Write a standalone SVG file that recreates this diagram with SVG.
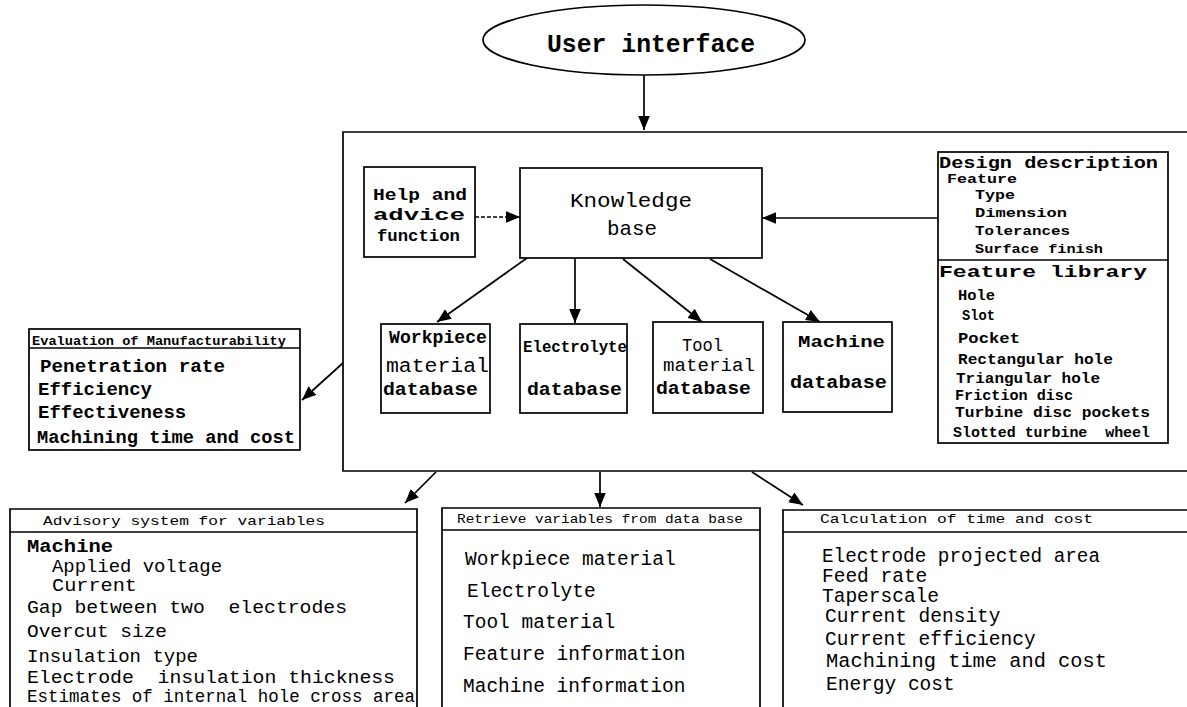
<svg xmlns="http://www.w3.org/2000/svg" width="1187" height="707" viewBox="0 0 1187 707">
<style>
.ln{fill:none;stroke:#000;stroke-width:1.7}
.bx{fill:#fff;stroke:#000;stroke-width:1.7}
text{font-family:"Liberation Mono","DejaVu Sans Mono",monospace;fill:#000;white-space:pre}
.b{font-weight:bold}
.s13{font-size:13px}
.s14{font-size:14px}
.s15{font-size:15px}
.s16{font-size:16px}
.s17{font-size:17px}
.s18{font-size:18px}
.s19{font-size:19px}
.s20{font-size:19.5px}
.s21{font-size:21px}
</style>
<defs>
<marker id="ah" viewBox="0 0 12 10" refX="12" refY="5" markerWidth="14" markerHeight="12" markerUnits="userSpaceOnUse" orient="auto">
<path d="M0,0 L12,5 L0,10 z" fill="#000"/>
</marker>
</defs>
<rect width="1187" height="707" fill="#fff"/>

<g id="main-frame">
<path class="ln" d="M1190,132 H343 V471 H1190"/>
</g>

<g id="connectors">
<line class="ln" x1="644" y1="75" x2="644" y2="130" marker-end="url(#ah)"/>
<line class="ln" x1="475" y1="217" x2="520" y2="217" stroke-dasharray="4 2" marker-end="url(#ah)"/>
<line class="ln" x1="938" y1="218" x2="762" y2="218" marker-end="url(#ah)"/>
<line class="ln" x1="527" y1="258" x2="437" y2="322" marker-end="url(#ah)"/>
<line class="ln" x1="575" y1="258" x2="575" y2="323" marker-end="url(#ah)"/>
<line class="ln" x1="623" y1="259" x2="702" y2="322" marker-end="url(#ah)"/>
<line class="ln" x1="710" y1="259" x2="820" y2="322" marker-end="url(#ah)"/>
<line class="ln" x1="343" y1="363" x2="302" y2="400" marker-end="url(#ah)"/>
<line class="ln" x1="436" y1="472" x2="405" y2="503" marker-end="url(#ah)"/>
<line class="ln" x1="600" y1="472" x2="600" y2="507" marker-end="url(#ah)"/>
<line class="ln" x1="752" y1="472" x2="803" y2="505" marker-end="url(#ah)"/>
</g>

<g id="user-interface">
<ellipse class="bx" cx="644" cy="40" rx="161" ry="35"/>
<text class="b" x="547" y="52" font-size="25" textLength="208" lengthAdjust="spacingAndGlyphs">User interface</text>
</g>

<g id="help-advice">
<rect class="bx" x="364" y="167" width="111" height="90"/>
<text class="b s17" x="373" y="200" textLength="94" lengthAdjust="spacingAndGlyphs">Help and</text>
<text class="b s17" x="373" y="220" textLength="92" lengthAdjust="spacingAndGlyphs">advice</text>
<text class="b s17" x="377" y="241" textLength="83" lengthAdjust="spacingAndGlyphs">function</text>
</g>

<g id="knowledge-base">
<rect class="bx" x="520" y="168" width="242" height="90"/>
<text class="s21" x="570" y="207" textLength="122" lengthAdjust="spacingAndGlyphs">Knowledge</text>
<text class="s21" x="607" y="235" textLength="50" lengthAdjust="spacingAndGlyphs">base</text>
</g>

<g id="design-description">
<rect class="bx" x="938" y="152" width="230" height="291"/>
<line class="ln" x1="938" y1="260" x2="1168" y2="260"/>
<text class="b s17" x="939" y="168" textLength="219" lengthAdjust="spacingAndGlyphs">Design description</text>
<text class="b s13" x="947" y="183" textLength="70" lengthAdjust="spacingAndGlyphs">Feature</text>
<text class="b s13" x="975" y="199" textLength="40" lengthAdjust="spacingAndGlyphs">Type</text>
<text class="b s13" x="975" y="217" textLength="92" lengthAdjust="spacingAndGlyphs">Dimension</text>
<text class="b s13" x="975" y="235" textLength="95" lengthAdjust="spacingAndGlyphs">Tolerances</text>
<text class="b s13" x="975" y="253" textLength="128" lengthAdjust="spacingAndGlyphs">Surface finish</text>
<text class="b s17" x="939" y="277" textLength="208" lengthAdjust="spacingAndGlyphs">Feature library</text>
<text class="b s15" x="958" y="300" textLength="37" lengthAdjust="spacingAndGlyphs">Hole</text>
<text class="b s15" x="962" y="320" textLength="33" lengthAdjust="spacingAndGlyphs">Slot</text>
<text class="b s15" x="958" y="343" textLength="62" lengthAdjust="spacingAndGlyphs">Pocket</text>
<text class="b s15" x="958" y="364" textLength="155" lengthAdjust="spacingAndGlyphs">Rectangular hole</text>
<text class="b s15" x="956" y="383" textLength="144" lengthAdjust="spacingAndGlyphs">Triangular hole</text>
<text class="b s15" x="955" y="400" textLength="118" lengthAdjust="spacingAndGlyphs">Friction disc</text>
<text class="b s15" x="955" y="417" textLength="195" lengthAdjust="spacingAndGlyphs">Turbine disc pockets</text>
<text class="b s15" x="953" y="437" textLength="197" lengthAdjust="spacingAndGlyphs">Slotted turbine  wheel</text>
</g>

<g id="workpiece-db">
<rect class="bx" x="381" y="324" width="109" height="89"/>
<text class="b s18" x="389" y="343" textLength="98" lengthAdjust="spacingAndGlyphs">Workpiece</text>
<text class="s20" x="386" y="372" textLength="103" lengthAdjust="spacingAndGlyphs">material</text>
<text class="b s18" x="383" y="395" textLength="95" lengthAdjust="spacingAndGlyphs">database</text>
</g>

<g id="electrolyte-db">
<rect class="bx" x="520" y="324" width="107" height="89"/>
<text class="b s16" x="523" y="352" textLength="104" lengthAdjust="spacingAndGlyphs">Electrolyte</text>
<text class="b s18" x="527" y="395" textLength="95" lengthAdjust="spacingAndGlyphs">database</text>
</g>

<g id="tool-db">
<rect class="bx" x="653" y="322" width="110" height="91"/>
<text class="s18" x="682" y="351" textLength="41" lengthAdjust="spacingAndGlyphs">Tool</text>
<text class="s18" x="663" y="371" textLength="92" lengthAdjust="spacingAndGlyphs">material</text>
<text class="b s18" x="656" y="394" textLength="95" lengthAdjust="spacingAndGlyphs">database</text>
</g>

<g id="machine-db">
<rect class="bx" x="783" y="322" width="109" height="90"/>
<text class="b s17" x="798" y="347" textLength="87" lengthAdjust="spacingAndGlyphs">Machine</text>
<text class="b s18" x="790" y="388" textLength="97" lengthAdjust="spacingAndGlyphs">database</text>
</g>

<g id="evaluation">
<rect class="bx" x="29" y="329" width="271" height="121"/>
<line class="ln" x1="29" y1="348" x2="300" y2="348"/>
<text class="b s13" x="32" y="345" textLength="254" lengthAdjust="spacingAndGlyphs">Evaluation of Manufacturability</text>
<text class="b s19" x="40" y="372" textLength="185" lengthAdjust="spacingAndGlyphs">Penetration rate</text>
<text class="b s19" x="38" y="395">Efficiency</text>
<text class="b s19" x="38" y="418">Effectiveness</text>
<text class="b s19" x="37" y="443" textLength="258" lengthAdjust="spacingAndGlyphs">Machining time and cost</text>
</g>

<g id="advisory-system">
<path class="bx" d="M10,712 V509 H417 V712"/>
<line class="ln" x1="10" y1="532" x2="417" y2="532"/>
<text class="s13" x="43" y="525" textLength="282" lengthAdjust="spacingAndGlyphs">Advisory system for variables</text>
<text class="b s18" x="27" y="552" textLength="86" lengthAdjust="spacingAndGlyphs">Machine</text>
<text class="s18" x="52" y="572" textLength="170" lengthAdjust="spacingAndGlyphs">Applied voltage</text>
<text class="s18" x="52" y="591" textLength="85" lengthAdjust="spacingAndGlyphs">Current</text>
<text class="s18" x="27" y="613" textLength="320" lengthAdjust="spacingAndGlyphs" xml:space="preserve">Gap between two  electrodes</text>
<text class="s18" x="27" y="637" textLength="140" lengthAdjust="spacingAndGlyphs">Overcut size</text>
<text class="s18" x="27" y="662" textLength="171" lengthAdjust="spacingAndGlyphs">Insulation type</text>
<text class="s18" x="27" y="683" textLength="368" lengthAdjust="spacingAndGlyphs" xml:space="preserve">Electrode  insulation thickness</text>
<text class="s18" x="27" y="702" textLength="388" lengthAdjust="spacingAndGlyphs">Estimates of internal hole cross area</text>
</g>

<g id="retrieve-variables">
<path class="bx" d="M442,712 V508 H760 V712"/>
<line class="ln" x1="442" y1="530" x2="760" y2="530"/>
<text class="s13" x="457" y="523" textLength="286" lengthAdjust="spacingAndGlyphs">Retrieve variables from data base</text>
<text class="s20" x="465" y="565">Workpiece material</text>
<text class="s20" x="467" y="597">Electrolyte</text>
<text class="s20" x="463" y="628">Tool material</text>
<text class="s20" x="463" y="660">Feature information</text>
<text class="s20" x="463" y="692">Machine information</text>
</g>

<g id="calculation">
<path class="bx" d="M1192,510 H783 V712"/>
<line class="ln" x1="783" y1="532" x2="1192" y2="532"/>
<text class="s13" x="820" y="523" textLength="273" lengthAdjust="spacingAndGlyphs">Calculation of time and cost</text>
<text class="s20" x="822" y="562" textLength="278" lengthAdjust="spacingAndGlyphs">Electrode projected area</text>
<text class="s20" x="822" y="582">Feed rate</text>
<text class="s20" x="822" y="602">Taperscale</text>
<text class="s20" x="825" y="622">Current density</text>
<text class="s20" x="825" y="645">Current efficiency</text>
<text class="s20" x="826" y="667" textLength="281" lengthAdjust="spacingAndGlyphs">Machining time and cost</text>
<text class="s20" x="826" y="690">Energy cost</text>
</g>
</svg>
